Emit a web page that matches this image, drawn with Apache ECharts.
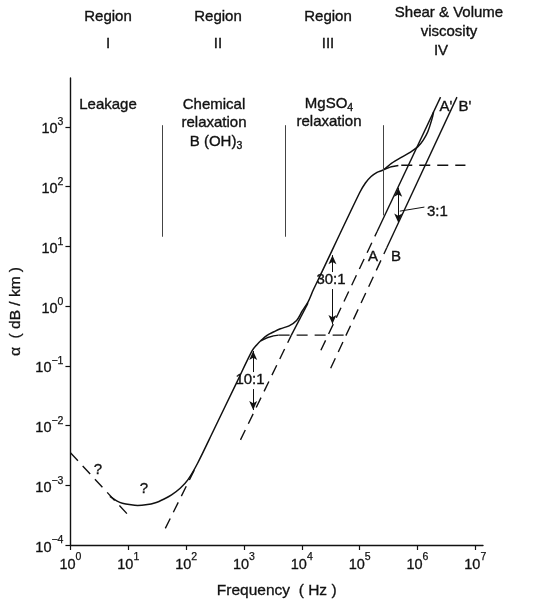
<!DOCTYPE html>
<html>
<head>
<meta charset="utf-8">
<script src="https://cdn.jsdelivr.net/npm/echarts@6/dist/echarts.min.js"></script>
<style>
html, body { margin: 0; padding: 0; background: #fff; }
#chart { width: 534px; height: 605px; }
</style>
</head>
<body>
<div id="chart"></div>
<script>
// axis ticks (powers of ten)
var freqTicks = [1, 10, 100, 1e3, 1e4, 1e5, 1e6, 1e7];
var alphaTicks = [1e-4, 1e-3, 1e-2, 1e-1, 1, 10, 100, 1e3];

// total absorption curve (solid)
var totalFreq = [4.8, 6.3, 7.9, 11.2, 14.5, 20, 29.5, 41.7, 56, 79, 107, 158, 302, 759, 1380, 1660, 1950,
  2510, 3310, 4270, 6030, 8130, 10200, 12800, 15800, 20000, 1.0e5, 1.26e5, 1.58e5, 2.0e5, 2.57e5,
  3.55e5, 5.25e5, 7.59e5, 1.02e6, 1.26e6, 1.51e6, 1.78e6, 1.9e6];
var totalAlpha = [6.5e-4, 5.5e-4, 5.0e-4, 4.7e-4, 4.6e-4, 4.7e-4, 5.1e-4, 5.9e-4, 6.9e-4, 8.9e-4, 1.23e-3, 2.34e-3, 8.5e-3, 0.054, 0.178, 0.224, 0.263,
  0.324, 0.372, 0.417, 0.468, 0.575, 0.83, 1.17, 1.86, 3.0, 79, 115, 148, 174, 191,
  245, 309, 380, 468, 603, 832, 1350, 1780];

// boric acid branch near its knee (solid) and its plateau (dashed)
var boricKneeFreq = [1950, 2510, 3240, 3980];
var boricKneeAlpha = [0.263, 0.295, 0.318, 0.327];
var boricPlateauFreq = [3980, 57500];
var boricPlateauAlpha = [0.327, 0.327];
// boric acid f^2 asymptote (dashed)
var boricLowFreq = [43.7, 141];
var boricLowAlpha = [1.9e-4, 1.86e-3];

// MgSO4 f^2 asymptote: dashed, then solid up to the total curve
var mgDashFreq = [871, 6610];
var mgDashAlpha = [5.75e-3, 0.327];
var mgSolidFreq = [6610, 12800];
var mgSolidAlpha = [0.327, 1.12];
// MgSO4 branch near its knee and plateau
var mgKneeFreq = [2.57e5, 3.55e5, 4.68e5];
var mgKneeAlpha = [191, 216, 226];
var mgPlateauFreq = [5.25e5, 6.76e6];
var mgPlateauAlpha = [229, 229];

// leakage (dashed)
var leakFreq = [1, 10.7];
var leakAlpha = [3.5e-3, 2.95e-4];

// viscosity lines A / B
var aDashFreq = [21400, 2.0e5];
var aDashAlpha = [0.182, 17.6];
var aSolidFreq = [2.0e5, 2.51e6];
var aSolidAlpha = [17.6, 3160];
var bDashFreq = [31600, 2.95e5];
var bDashAlpha = [0.091, 9.46];
var bSolidFreq = [2.95e5, 4.82e6];
var bSolidAlpha = [9.46, 3160];

// region dividers
var dividerFreq = [38.5, 5260, 2.58e5];
var dividerLow = [14.5, 14.5, 33];
var dividerHigh = [1070, 1070, 1070];

// ratio arrows: [freq, textEdge, tip]
var ratio10 = { f: 1445, up: [0.0787, 0.177], down: [0.0408, 0.0182] };
var ratio30 = { f: 33900, up: [3.72, 7.14], down: [1.93, 0.50] };
var ratio3 = { f: 4.65e5, top: 95.5, bottom: 25.1 };
var ratio3Leader = [[4.95e5, 38.9], [1.32e6, 45.5]];

var FONT = '"Liberation Sans", Arial, sans-serif';
var INK = '#111';

function pair(fs, as) {
  var out = [];
  for (var i = 0; i < fs.length; i++) out.push([fs[i], as[i]]);
  return out;
}

function powLabel(v) {
  var e = Math.round(Math.log10(v));
  var s = e < 0 ? '\u2212' + (-e) : '' + e;
  return '{b|10}{s|' + s + '}';
}

var richLabel = {
  b: { fontSize: 14.5, fontFamily: FONT, color: INK, padding: [5, 0, 0, 0], textBorderColor: INK, textBorderWidth: 0.3 },
  s: { fontSize: 10.5, fontFamily: FONT, color: INK, verticalAlign: 'top', textBorderColor: INK, textBorderWidth: 0.25 }
};

function lineSeries(data, dashed, width) {
  return {
    type: 'line',
    data: data,
    showSymbol: false,
    symbol: 'none',
    smooth: false,
    silent: true,
    lineStyle: { color: INK, width: width || 1.4, type: dashed ? [11, 7] : 'solid' }
  };
}

var dividerLines = [];
for (var i = 0; i < dividerFreq.length; i++) {
  dividerLines.push([{ coord: [dividerFreq[i], dividerLow[i]] }, { coord: [dividerFreq[i], dividerHigh[i]] }]);
}

function arrowSeg(f, from, to) {
  return [{ coord: [f, from], symbol: 'none' }, { coord: [f, to], symbol: 'arrow' }];
}

var myChart = echarts.init(document.getElementById('chart'), null, { renderer: 'canvas' });

var totalSeries = lineSeries(pair(totalFreq, totalAlpha), false, 1.5);
totalSeries.smooth = 0.3;

var dividerSeries = {
  type: 'line', data: [], silent: true, symbol: 'none',
  markLine: {
    silent: true, symbol: ['none', 'none'], label: { show: false },
    lineStyle: { color: '#444', width: 1, type: 'solid' },
    data: dividerLines
  }
};

var arrowSeries = {
  type: 'line', data: [], silent: true, symbol: 'none',
  markLine: {
    silent: true, symbolSize: [6, 9], label: { show: false },
    lineStyle: { color: INK, width: 1, type: 'solid' },
    data: [
      arrowSeg(ratio10.f, ratio10.up[0], ratio10.up[1]),
      arrowSeg(ratio10.f, ratio10.down[0], ratio10.down[1]),
      arrowSeg(ratio30.f, ratio30.up[0], ratio30.up[1]),
      arrowSeg(ratio30.f, ratio30.down[0], ratio30.down[1]),
      [{ coord: [ratio3.f, ratio3.bottom], symbol: 'arrow' }, { coord: [ratio3.f, ratio3.top], symbol: 'arrow' }],
      [{ coord: ratio3Leader[0], symbol: 'none' }, { coord: ratio3Leader[1], symbol: 'none' }]
    ]
  }
};

function txt(x, y, text, size, align) {
  return {
    type: 'text', x: x, y: y, silent: true,
    style: {
      text: text, fill: INK, font: (size || 15) + 'px ' + FONT,
      stroke: INK, lineWidth: 0.35,
      align: align || 'center', verticalAlign: 'middle',
      rich: { sub: { fontSize: 10.5, fontFamily: FONT, fill: INK, verticalAlign: 'bottom', padding: [8, 0, 0, 0] } }
    }
  };
}

myChart.setOption({
  animation: false,
  backgroundColor: '#fff',
  grid: { left: 63.5, right: 51, top: 78, bottom: 60 },
  xAxis: {
    type: 'log', logBase: 10, min: 1, max: 1.36e7,
    name: 'Frequency  ( Hz )', nameLocation: 'middle', nameGap: 38,
    nameTextStyle: { fontSize: 15.5, fontFamily: FONT, color: INK, textBorderColor: INK, textBorderWidth: 0.3 },
    axisLine: { lineStyle: { color: INK, width: 1.4 } },
    axisTick: { length: 5, customValues: freqTicks, lineStyle: { color: INK, width: 1.2 } },
    axisLabel: { customValues: freqTicks, margin: 7, formatter: powLabel, rich: richLabel },
    splitLine: { show: false },
    minorTick: { show: false }
  },
  yAxis: {
    type: 'log', logBase: 10, min: 1e-4, max: 6600,
    name: '\u03b1  ( dB / km )', nameLocation: 'middle', nameGap: 44, nameRotate: 90,
    nameTextStyle: { fontSize: 15.5, fontFamily: FONT, color: INK, textBorderColor: INK, textBorderWidth: 0.3 },
    axisLine: { show: true, lineStyle: { color: INK, width: 1.4 } },
    axisTick: { show: true, length: 5, customValues: alphaTicks, lineStyle: { color: INK, width: 1.2 } },
    axisLabel: { customValues: alphaTicks, margin: 7, formatter: powLabel, rich: richLabel },
    splitLine: { show: false }
  },
  graphic: [
    txt(108, 17, 'Region'), txt(108, 44, 'I'),
    txt(218, 17, 'Region'), txt(218, 44, 'II'),
    txt(328, 17, 'Region'), txt(328, 44, 'III'),
    txt(449, 13, 'Shear & Volume'), txt(449, 32, 'viscosity'), txt(441, 51, 'IV'),
    txt(108, 105, 'Leakage'),
    txt(214, 105, 'Chemical'), txt(214, 123, 'relaxation'), txt(216, 142, 'B (OH){sub|3}'),
    txt(329, 104, 'MgSO{sub|4}'), txt(329, 122, 'relaxation'),
    txt(446, 107, "A'"), txt(465, 107, "B'"),
    txt(373, 257, 'A'), txt(396, 257, 'B'),
    txt(98, 470, '?'), txt(144, 489, '?'),
    txt(250, 380, '10:1'), txt(331, 280, '30:1'), txt(427, 212, '3:1', 15, 'left')
  ],
  series: [
    dividerSeries,
    totalSeries,
    lineSeries(pair(boricKneeFreq, boricKneeAlpha), false),
    lineSeries(pair(boricPlateauFreq, boricPlateauAlpha), true),
    lineSeries(pair(boricLowFreq, boricLowAlpha), true),
    lineSeries(pair(mgDashFreq, mgDashAlpha), true),
    lineSeries(pair(mgSolidFreq, mgSolidAlpha), false),
    lineSeries(pair(mgKneeFreq, mgKneeAlpha), false),
    lineSeries(pair(mgPlateauFreq, mgPlateauAlpha), true),
    lineSeries(pair(leakFreq, leakAlpha), true),
    lineSeries(pair(aDashFreq, aDashAlpha), true),
    lineSeries(pair(aSolidFreq, aSolidAlpha), false),
    lineSeries(pair(bDashFreq, bDashAlpha), true),
    lineSeries(pair(bSolidFreq, bSolidAlpha), false),
    arrowSeries
  ]
});
</script>
</body>
</html>
